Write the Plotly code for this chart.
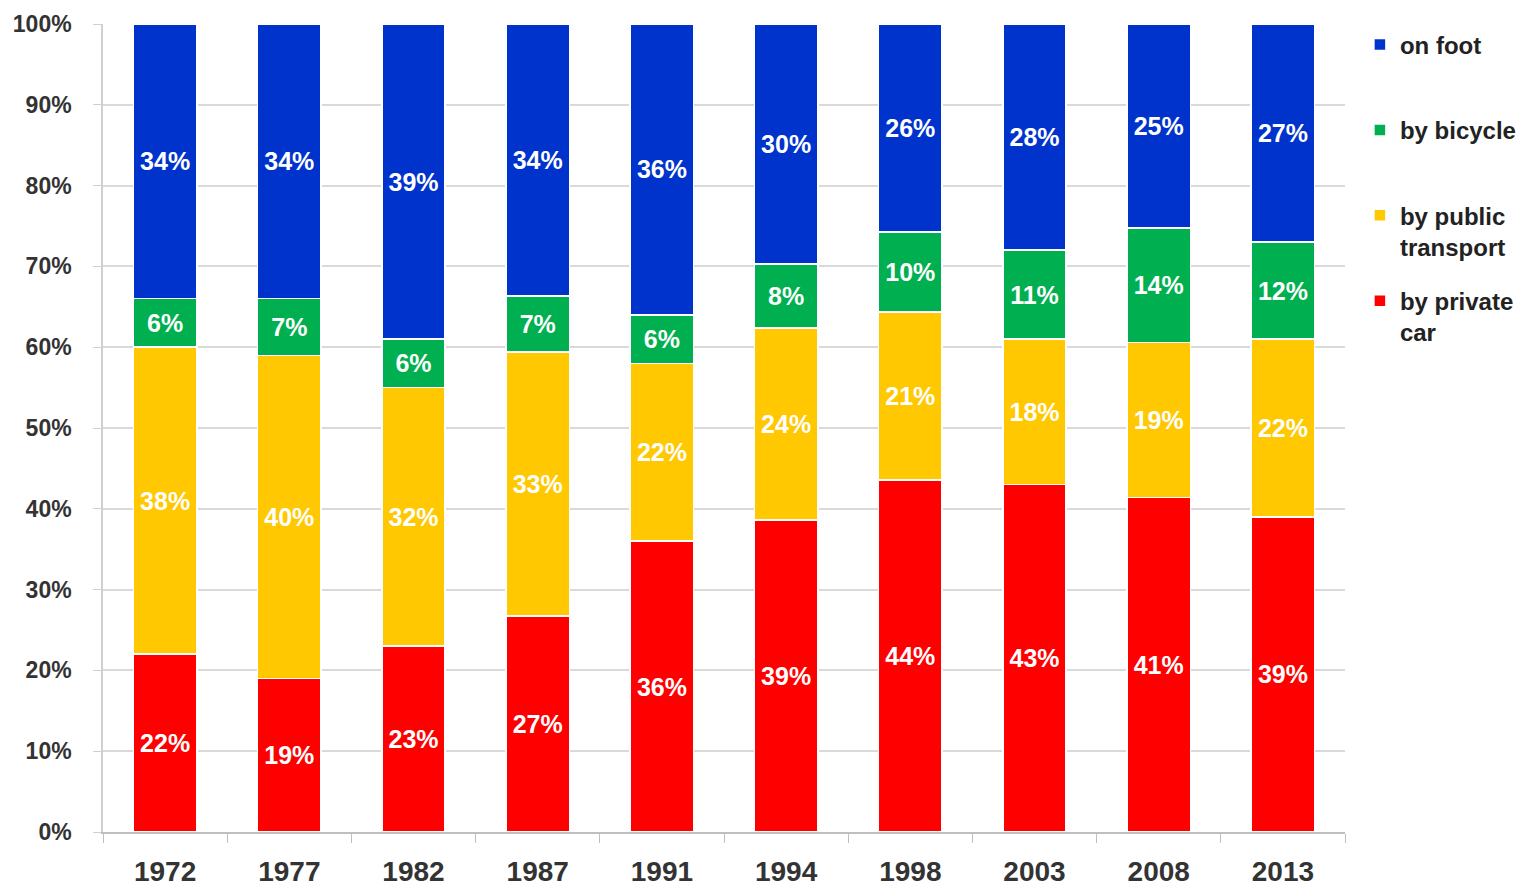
import plotly.graph_objects as go

years = ["1972", "1977", "1982", "1987", "1991", "1994", "1998", "2003", "2008", "2013"]
car = [22, 19, 23, 27, 36, 39, 44, 43, 41, 39]
public = [38, 40, 32, 33, 22, 24, 21, 18, 19, 22]
bicycle = [6, 7, 6, 7, 6, 8, 10, 11, 14, 12]
foot = [34, 34, 39, 34, 36, 30, 26, 28, 25, 27]

series = [
    ("by private<br>car", car, "#ff0000", 4),
    ("by public<br>transport", public, "#ffc800", 3),
    ("by bicycle<br>\u00a0", bicycle, "#00b050", 2),
    ("on foot<br>\u00a0", foot, "#0033cc", 1),
]

FONT = "Liberation Sans, Arial, sans-serif"

fig = go.Figure()
for name, vals, color, rank in series:
    fig.add_trace(go.Bar(
        x=years, y=vals, name=name,
        marker=dict(color=color, line=dict(color="white", width=1.5)),
        text=[f"{v}%" for v in vals], texttemplate="%{text}",
        textposition="inside", insidetextanchor="middle", textangle=0,
        constraintext="none",
        textfont=dict(family=FONT, size=25, color="white", weight="bold"),
        legendgroup=name, legendrank=rank,
    ))

fig.update_layout(
    width=1518, height=880,
    barmode="stack", barnorm="percent", bargap=0.49,
    plot_bgcolor="white", paper_bgcolor="white",
    margin=dict(l=95, r=181, t=16, b=56, autoexpand=False),
    font=dict(family=FONT, color="#333333", weight="bold"),
    legend=dict(
        x=1.012, y=1.002, xanchor="left", yanchor="top",
        traceorder="grouped", tracegroupgap=20,
        valign="top",
        font=dict(family=FONT, size=24, color="#222222", weight="bold"),
    ),
    xaxis=dict(
        automargin=False,
        showline=True, linecolor="#bfbfbf", linewidth=1.5,
        ticks="outside", tickson="boundaries", ticklen=9, tickcolor="#bfbfbf",
        ticklabelstandoff=14,
        tickfont=dict(family=FONT, size=28, color="#333333", weight="bold"),
    ),
    yaxis=dict(
        automargin=False,
        range=[0, 100], dtick=10, ticksuffix="%",
        showgrid=True, gridcolor="#d9d9d9", gridwidth=1.5,
        showline=True, linecolor="#d0d0d0", linewidth=1.5,
        ticks="outside", ticklen=8, tickcolor="#d0d0d0",
        ticklabelstandoff=17,
        tickfont=dict(family=FONT, size=23, color="#333333", weight="bold"),
        zeroline=False,
    ),
)

fig.write_html("out.html")
